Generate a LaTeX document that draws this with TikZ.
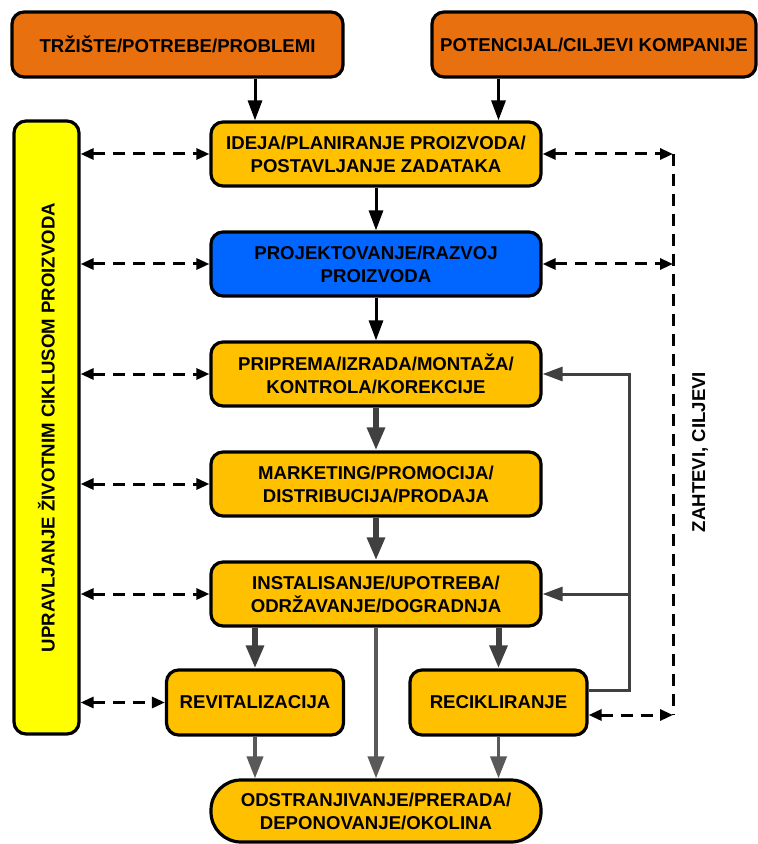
\documentclass[tikz,border=0pt]{standalone}
\usepackage{fontspec}
\setmainfont{Liberation Sans}
\usetikzlibrary{arrows.meta}

\definecolor{narandza}{RGB}{232,112,14}
\definecolor{zlatna}{RGB}{255,192,0}
\definecolor{plava}{RGB}{0,102,255}
\definecolor{zuta}{RGB}{255,255,0}
\definecolor{tamnosiva}{RGB}{64,64,64}
\definecolor{siva}{RGB}{89,89,89}

\begin{document}
\begin{tikzpicture}[x=0.5pt,y=-0.5pt,
    natpis/.style={font=\fontsize{9.3}{11.5}\selectfont\bfseries},
    faza/.style={natpis,rectangle,rounded corners=6pt,draw,line width=1.6pt,fill=zlatna,
        minimum width=165pt,minimum height=32pt,inner sep=0pt,align=center},
    ulaz/.style={faza,fill=narandza,minimum height=32.5pt},
    mala/.style={faza,minimum width=88.5pt,minimum height=32.5pt},
    crna/.style={draw=black,line width=1.5pt,-{Triangle[length=10pt,width=7pt]}},
    debela/.style={draw=tamnosiva,line width=3pt,-{Triangle[length=11.5pt,width=8.5pt]}},
    tanka/.style={draw=siva,line width=1.9pt,-{Triangle[length=11pt,width=8pt]}},
    povrat/.style={draw=tamnosiva,line width=1.5pt,-{Triangle[length=10pt,width=7pt]}},
    isprek/.style={draw=black,line width=1.5pt,dash pattern=on 6pt off 4pt},
    veza/.style={isprek,{Triangle[length=6.5pt,width=5.5pt]}-{Triangle[length=6.5pt,width=5.5pt]}}]
    \useasboundingbox (0,0) rectangle (757,844);

    \node[ulaz,minimum width=165.5pt] (trziste) at (177.5,44.5) {TRŽIŠTE/POTREBE/PROBLEMI};
    \node[ulaz,minimum width=162pt] (potencijal) at (594,44.5) {POTENCIJAL/CILJEVI KOMPANIJE};
    \node[faza] (ideja) at (376,154) {IDEJA/PLANIRANJE PROIZVODA/\\POSTAVLJANJE ZADATAKA};
    \node[faza,fill=plava] (projekt) at (376,264) {PROJEKTOVANJE/RAZVOJ\\PROIZVODA};
    \node[faza] (priprema) at (376,374) {PRIPREMA/IZRADA/MONTAŽA/\\KONTROLA/KOREKCIJE};
    \node[faza] (marketing) at (376,484) {MARKETING/PROMOCIJA/\\DISTRIBUCIJA/PRODAJA};
    \node[faza] (instal) at (376,594) {INSTALISANJE/UPOTREBA/\\ODRŽAVANJE/DOGRADNJA};
    \node[mala] (revit) at (255,702.5) {REVITALIZACIJA};
    \node[mala] (recikl) at (498.5,702.5) {RECIKLIRANJE};
    \node[faza,rounded corners=15pt,minimum height=31pt] (odstr) at (376,811) {ODSTRANJIVANJE/PRERADA/\\DEPONOVANJE/OKOLINA};
    \node[faza,fill=zuta,minimum width=32.5pt,minimum height=306.5pt] (upr) at (46.5,427.5) {};
    \node[natpis,rotate=90] (uprtekst) at (upr.center) {UPRAVLJANJE ŽIVOTNIM CIKLUSOM PROIZVODA};
    \node[natpis,rotate=90] (zahtevi) at (700,452) {ZAHTEVI, CILJEVI};
    \coordinate (z1) at (673,715);
    \coordinate (p1) at (629,690);

    \draw[crna] (trziste.south -| revit) -- (ideja.north -| revit);
    \draw[crna] (potencijal.south -| recikl) -- (ideja.north -| recikl);
    \draw[crna] (ideja) -- (projekt);
    \draw[crna] (projekt) -- (priprema);
    \draw[debela] (priprema) -- (marketing);
    \draw[debela] (marketing) -- (instal);
    \draw[debela] (instal.south -| revit) -- (revit.north);
    \draw[debela] (instal.south -| recikl) -- (recikl.north);
    \draw[tanka] (instal.south) -- (odstr.north);
    \draw[tanka] (revit.south) -- (odstr.north -| revit);
    \draw[tanka] (recikl.south) -- (odstr.north -| recikl);

    \draw[povrat] (recikl.east |- p1) -- (p1) -- (p1 |- priprema.east) -- (priprema.east);
    \draw[povrat] (p1 |- instal.east) -- (instal.east);

    \foreach \f in {ideja,projekt,priprema,marketing,instal,revit}
        \draw[veza] (\f.west -| upr.east) -- (\f.west);
    \draw[veza] (ideja.east) -- (ideja.east -| z1);
    \draw[veza] (projekt.east) -- (projekt.east -| z1);
    \draw[veza] (recikl.east |- z1) -- (z1);
    \draw[isprek] (ideja.east -| z1) -- (z1);
\end{tikzpicture}
\end{document}
